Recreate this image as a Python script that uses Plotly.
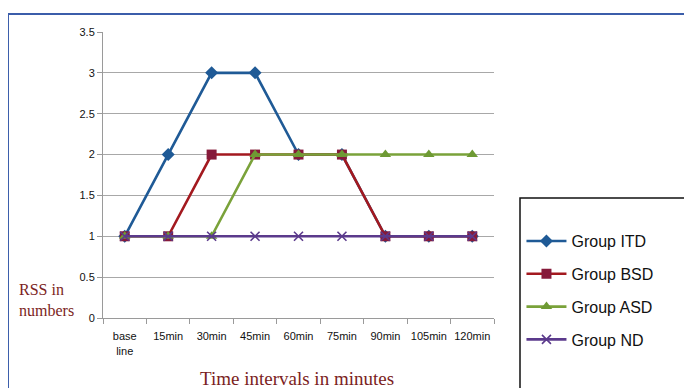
import plotly.graph_objects as go

categories = ["base<br>line", "15min", "30min", "45min", "60min", "75min", "90min", "105min", "120min"]
itd = [1, 2, 3, 3, 2, 2, 1, 1, 1]
bsd = [1, 1, 2, 2, 2, 2, 1, 1, 1]
asd = [1, 1, 1, 2, 2, 2, 2, 2, 2]
nd = [1, 1, 1, 1, 1, 1, 1, 1, 1]
y_ticks = [0, 0.5, 1, 1.5, 2, 2.5, 3, 3.5]

series = [
    ("Group ITD", itd, "#1F5A96", "diamond", 10, "#1F5A96"),
    ("Group BSD", bsd, "#A3191F", "square", 10, "#861A3A"),
    ("Group ASD", asd, "#7AA23A", "triangle-up", 10, "#6E9A34"),
    ("Group ND", nd, "#5B3A8C", "x-thin", 9, "#5B3A8C"),
]

fig = go.Figure()
for i, (name, vals, col, sym, size, mcol) in enumerate(series):
    marker = dict(symbol=sym, size=size, color=mcol)
    if sym == "x-thin":
        marker["line"] = dict(width=1.6, color=mcol)
    fig.add_trace(go.Scatter(
        x=categories, y=vals, name=name, mode="lines+markers",
        line=dict(color=col, width=2.6), marker=marker,
        legendgroup=f"g{i}",
    ))

tick_font = dict(family="Liberation Sans, Arial, sans-serif", size=11, color="#111")

fig.update_layout(
    width=692, height=388,
    margin=dict(l=95, r=206, t=24, b=78, autoexpand=False),
    paper_bgcolor="white", plot_bgcolor="white",
    showlegend=True,
    legend=dict(
        xref="container", yref="container",
        x=0.742, y=0.443, xanchor="left", yanchor="top",
        font=dict(family="Liberation Sans, Arial, sans-serif", size=16, color="#111"),
        bgcolor="rgba(0,0,0,0)", borderwidth=0,
        traceorder="grouped", tracegroupgap=9,
        itemwidth=40,
    ),
    xaxis=dict(
        type="category", range=[-0.5, 8.5], automargin=False, tickangle=0,
        showgrid=False, showline=True, linecolor="#9A9A9A", linewidth=1,
        ticks="outside", tickson="boundaries", ticklen=5, tickcolor="#9A9A9A",
        ticklabelstandoff=8,
        tickfont=tick_font,
    ),
    yaxis=dict(
        range=[0, 3.5], tickvals=y_ticks, ticktext=[f"{v:g}" for v in y_ticks],
        automargin=False,
        showgrid=True, gridcolor="#A8A8A8", gridwidth=1,
        showline=True, linecolor="#9A9A9A", linewidth=1,
        ticks="outside", ticklen=5, tickcolor="#9A9A9A",
        tickfont=tick_font,
        zeroline=False,
    ),
    shapes=[
        dict(type="rect", xref="paper", yref="paper",
             x0=-0.243, x1=1.6, y0=-0.6, y1=1.063,
             line=dict(color="#3B5DAA", width=2), fillcolor="rgba(0,0,0,0)", layer="below"),
        dict(type="rect", xref="paper", yref="paper",
             x0=1.0665, x1=1.501, y0=-0.6, y1=0.4196,
             line=dict(color="#111", width=1.5), fillcolor="rgba(0,0,0,0)", layer="below"),
    ],
    annotations=[
        dict(text="Time intervals in minutes", xref="paper", yref="paper",
             x=(297 - 103) / 391, y=(318 - 378) / 286, xanchor="center", yanchor="middle",
             showarrow=False,
             font=dict(family="Liberation Serif, Times New Roman, serif", size=19, color="#7B1E22")),
        dict(text="RSS in<br>numbers", xref="paper", yref="paper",
             x=(17 - 103) / 391, y=(318 - 300) / 286, xanchor="left", yanchor="middle",
             align="left", showarrow=False,
             font=dict(family="Liberation Serif, Times New Roman, serif", size=16, color="#7B1E22")),
    ],
)

fig.write_html("out.html")
